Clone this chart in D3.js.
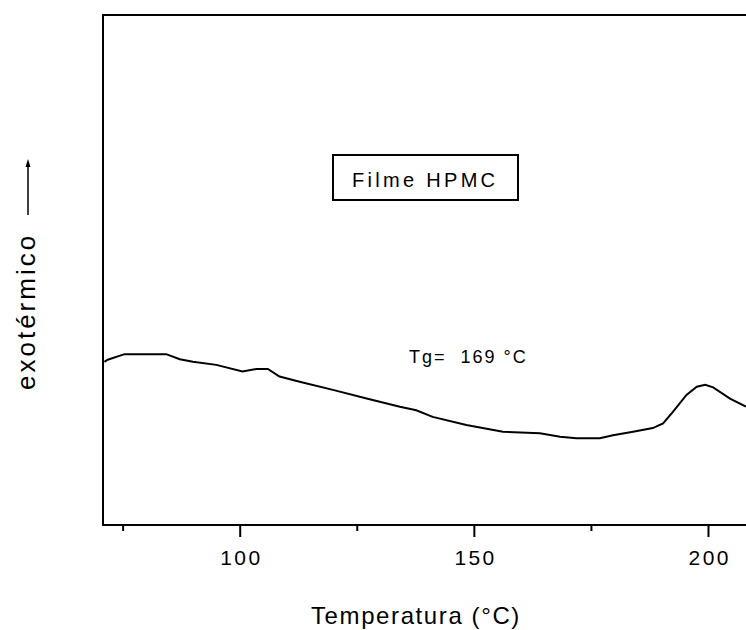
<!DOCTYPE html>
<html><head><meta charset="utf-8">
<script src="https://cdn.jsdelivr.net/npm/d3@7"></script>
<style>body{margin:0;background:#fff}svg{display:block}</style>
</head><body>
<script>
const temps = [71.0,71.7,75.3,84.2,87.1,89.9,94.9,100.5,103.5,105.9,108.4,112.7,119.8,127.0,134.1,137.6,141.1,148.3,156.1,164.0,168.3,171.8,176.8,179.6,183.9,188.1,190.3,192.4,195.3,197.5,199.3,201.0,204.6,208.0];
const signal = [32.0,32.4,33.5,33.5,32.5,32.0,31.4,30.1,30.6,30.6,29.1,28.1,26.5,24.8,23.2,22.5,21.2,19.6,18.3,18.0,17.3,17.0,17.0,17.6,18.3,19.0,19.9,22.2,25.5,27.1,27.5,27.0,24.8,23.2];
const majorTicks = [100,150,200];
const minorTicks = [75,125,175];
const xTitle = "Temperatura (°C)";
const yTitle = "exotérmico";
const boxLabel = "Filme HPMC";
const tgLabel = "Tg=\u00a0 169 °C";

const W = 746, H = 630;
const m = {left:103, top:15, bottom:525, right:760};
const svg = d3.select("body").append("svg").attr("width",W).attr("height",H);
const x = d3.scaleLinear().domain([70.7,211.0]).range([m.left, m.right]);
const y = d3.scaleLinear().domain([0,100]).range([m.bottom, m.top]);
const font = "'Liberation Sans', Arial, sans-serif";

// frame
svg.append("path")
  .attr("d", `M${m.right},${m.top}H${m.left}V${m.bottom}H${m.right}`)
  .attr("fill","none").attr("stroke","#000").attr("stroke-width",2);

// x axis ticks
const gx = svg.append("g").attr("transform",`translate(0,${m.bottom})`);
gx.selectAll(".maj").data(majorTicks).join("line")
  .attr("x1",d=>x(d)).attr("x2",d=>x(d)).attr("y1",0).attr("y2",12)
  .attr("stroke","#000").attr("stroke-width",2);
gx.selectAll(".min").data(minorTicks).join("line")
  .attr("x1",d=>x(d)).attr("x2",d=>x(d)).attr("y1",0).attr("y2",6)
  .attr("stroke","#000").attr("stroke-width",2);
gx.selectAll("text").data(majorTicks).join("text")
  .attr("x",d=>x(d)+1.2).attr("y",40).attr("text-anchor","middle")
  .attr("font-family",font).attr("font-size",21).attr("letter-spacing",2.4)
  .text(d=>d);

svg.append("text").attr("x",311).attr("y",624)
  .attr("font-family",font).attr("font-size",24).attr("letter-spacing",1.6)
  .text(xTitle);

// y title with arrow
svg.append("text").attr("transform","translate(35,390) rotate(-90)")
  .attr("font-family",font).attr("font-size",26).attr("letter-spacing",3)
  .text(yTitle);
svg.append("line").attr("x1",28).attr("x2",28).attr("y1",215).attr("y2",164)
  .attr("stroke","#000").attr("stroke-width",1.5);
svg.append("path").attr("d","M28,159 L25.5,167 L30.5,167 Z").attr("fill","#000");

// curve
const line = d3.line().x((d,i)=>x(temps[i])).y(d=>y(d));
svg.append("path").datum(signal).attr("d",line)
  .attr("fill","none").attr("stroke","#000").attr("stroke-width",2);

// annotation box
svg.append("rect").attr("x",333).attr("y",155).attr("width",185).attr("height",45)
  .attr("fill","#fff").attr("stroke","#000").attr("stroke-width",2);
svg.append("text").attr("x",352).attr("y",187)
  .attr("font-family",font).attr("font-size",20).attr("letter-spacing",3.3)
  .text(boxLabel);
svg.append("text").attr("x",409).attr("y",363)
  .attr("font-family",font).attr("font-size",18).attr("letter-spacing",2)
  .text(tgLabel);
</script>
</body></html>
